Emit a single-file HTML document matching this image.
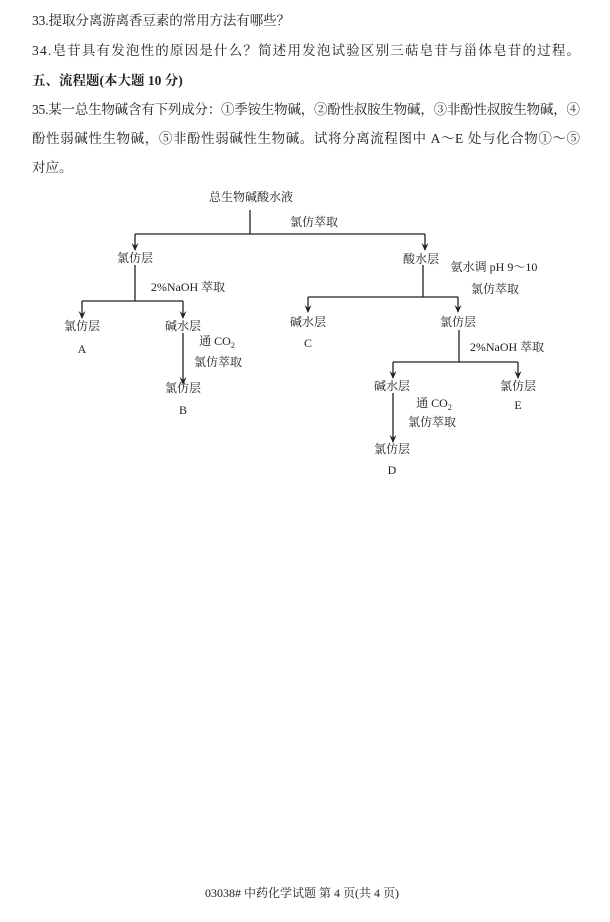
<!DOCTYPE html>
<html><head><meta charset="utf-8"><style>
body{margin:0;width:610px;height:922px;background:#fff;overflow:hidden}
svg{position:absolute;left:0;top:0}
text{font-family:"Liberation Serif","Noto Serif CJK SC",serif;fill:#222}
</style></head><body>
<svg width="610" height="922" viewBox="0 0 610 922">
<g font-size="13.5">
<text x="32" y="25" textLength="258">33.提取分离游离香豆素的常用方法有哪些？</text>
<text x="32" y="55" textLength="548">34.皂苷具有发泡性的原因是什么？简述用发泡试验区别三萜皂苷与甾体皂苷的过程。</text>
<text x="32" y="85" font-weight="bold" font-family="Liberation Sans,Noto Sans CJK SC,sans-serif">五、流程题(本大题 10 分)</text>
<text x="32" y="114" textLength="548">35.某一总生物碱含有下列成分：①季铵生物碱，②酚性叔胺生物碱，③非酚性叔胺生物碱，④</text>
<text x="32" y="143" textLength="548">酚性弱碱性生物碱，⑤非酚性弱碱性生物碱。试将分离流程图中 A～E 处与化合物①～⑤</text>
<text x="32" y="172">对应。</text>
</g>
<g stroke="#222" stroke-width="1.3" fill="none">
<path d="M250 210V234M135 234H425"/>
<path d="M135 234V250M425 234V250"/>
<path d="M135 265V301M82 301H183"/>
<path d="M82 301V318M183 301V318M183 333V384"/>
<path d="M423 265V297M308 297H458"/>
<path d="M308 297V312M458 297V312"/>
<path d="M459 330V362M393 362H518"/>
<path d="M393 362V378M518 362V378M393 393V442"/>
</g>
<g fill="#222">
<path d="M131.5 243L135 251L138.5 243L135 246z"/>
<path d="M421.5 243L425 251L428.5 243L425 246z"/>
<path d="M78.5 311L82 319L85.5 311L82 314z"/>
<path d="M179.5 311L183 319L186.5 311L183 314z"/>
<path d="M179.5 377L183 385L186.5 377L183 380z"/>
<path d="M304.5 305L308 313L311.5 305L308 308z"/>
<path d="M454.5 305L458 313L461.5 305L458 308z"/>
<path d="M389.5 371L393 379L396.5 371L393 374z"/>
<path d="M514.5 371L518 379L521.5 371L518 374z"/>
<path d="M389.5 435L393 443L396.5 435L393 438z"/>
</g>
<g font-size="12" text-anchor="middle">
<text x="251" y="201">总生物碱酸水液</text>
<text x="314" y="226">氯仿萃取</text>
<text x="135" y="262">氯仿层</text>
<text x="421" y="263">酸水层</text>
<text x="188" y="291">2%NaOH 萃取</text>
<text x="82" y="330">氯仿层</text>
<text x="82" y="353">A</text>
<text x="183" y="330">碱水层</text>
<text x="217" y="345">通 CO<tspan font-size="8" dy="3">2</tspan></text>
<text x="218" y="366">氯仿萃取</text>
<text x="183" y="392">氯仿层</text>
<text x="183" y="414">B</text>
<text x="494" y="271">氨水调 pH 9～10</text>
<text x="495" y="293">氯仿萃取</text>
<text x="308" y="326">碱水层</text>
<text x="308" y="347">C</text>
<text x="458" y="326">氯仿层</text>
<text x="507" y="351">2%NaOH 萃取</text>
<text x="392" y="390">碱水层</text>
<text x="434" y="407">通 CO<tspan font-size="8" dy="3">2</tspan></text>
<text x="432" y="426">氯仿萃取</text>
<text x="518" y="390">氯仿层</text>
<text x="518" y="409">E</text>
<text x="392" y="453">氯仿层</text>
<text x="392" y="474">D</text>
</g>
<text x="302" y="897" font-size="12" text-anchor="middle">03038# 中药化学试题 第 4 页(共 4 页)</text>
</svg>
</body></html>
